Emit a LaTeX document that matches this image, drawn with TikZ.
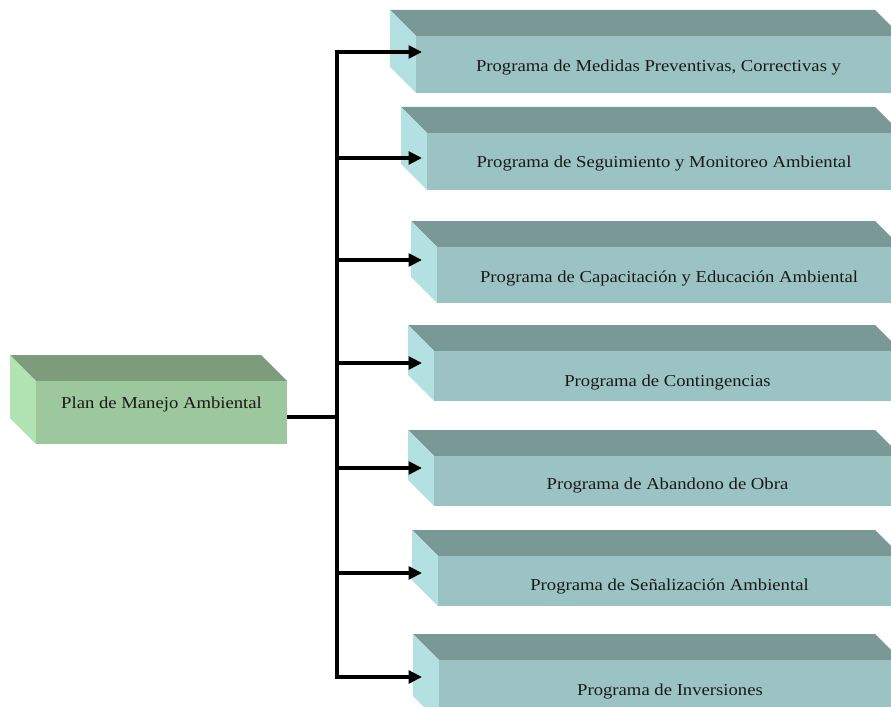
\documentclass[tikz,border=0pt]{standalone}
\usepackage{fontspec}
\setmainfont{Liberation Serif}[FakeStretch=1.12]
\usetikzlibrary{arrows.meta}

% face colours of the bevelled boxes
\definecolor{tealtop}{RGB}{122,152,150}
\definecolor{tealfront}{RGB}{155,195,195}
\definecolor{tealside}{RGB}{179,224,224}
\definecolor{greentop}{RGB}{124,156,124}
\definecolor{greenfront}{RGB}{157,200,157}
\definecolor{greenside}{RGB}{178,227,178}
\definecolor{labeltext}{RGB}{25,25,25}

% bevelled box: #1 left x, #2 top y, #3 front height, #4 front right x,
% #5 top colour, #6 front colour, #7 side colour (depth 26 units)
\newcommand\bevelbox[7]{%
  \fill[#5] (#1,#2) -- (#4-26,#2) -- (#4,#2+26) -- (#1+26,#2+26) -- cycle;
  \fill[#7] (#1,#2) -- (#1+26,#2+26) -- (#1+26,#2+26+#3) -- (#1,#2+#3) -- cycle;
  \fill[#6] (#1+26,#2+26) rectangle (#4,#2+26+#3);
}

\tikzset{
  boxlabel/.style={anchor=base, inner sep=0pt, text=labeltext,
    font=\fontsize{12.5}{15}\selectfont},
  trunk/.style={line width=2.8pt, line join=miter},
  branch/.style={line width=2.6pt, line join=miter,
    -{Triangle[length=10pt,width=9.5pt]}},
}

\begin{document}
\begin{tikzpicture}[x=0.75pt,y=-0.75pt]
  \useasboundingbox (0,0) rectangle (891,706);
  \fill[white] (0,0) rectangle (891,706);
  \clip (0,0) rectangle (891,706);

  % root box
  \bevelbox{10}{355}{63}{287}{greentop}{greenfront}{greenside}
  \node[boxlabel] (pma) at (161.5,408) {Plan de Manejo Ambiental};

  % programme boxes
  \bevelbox{390}{10}{57}{901}{tealtop}{tealfront}{tealside}
  \node[boxlabel] (p1) at (658.5,71.5) {Programa de Medidas Preventivas, Correctivas y};
  \bevelbox{401}{107}{57}{901}{tealtop}{tealfront}{tealside}
  \node[boxlabel] (p2) at (664,167) {Programa de Seguimiento y Monitoreo Ambiental};
  \bevelbox{411}{221}{56}{901}{tealtop}{tealfront}{tealside}
  \node[boxlabel] (p3) at (669,282) {Programa de Capacitación y Educación Ambiental};
  \bevelbox{408}{325}{50}{901}{tealtop}{tealfront}{tealside}
  \node[boxlabel] (p4) at (667.5,386) {Programa de Contingencias};
  \bevelbox{408}{430}{50}{901}{tealtop}{tealfront}{tealside}
  \node[boxlabel] (p5) at (667.5,489) {Programa de Abandono de Obra};
  \bevelbox{412}{530}{50}{901}{tealtop}{tealfront}{tealside}
  \node[boxlabel] (p6) at (669.5,590) {Programa de Señalización Ambiental};
  \bevelbox{413}{634}{62}{901}{tealtop}{tealfront}{tealside}
  \node[boxlabel] (p7) at (670,695) {Programa de Inversiones};

  % connector points
  \coordinate (out) at (287,417);
  \coordinate (j) at (337,417);
  \foreach \i/\y in {1/52,2/158,3/260,4/363,5/468,6/573,7/677}{
    \coordinate (t\i) at (337,\y);
    \coordinate (e\i) at (422,\y);
  }

  % trunk and branches
  \draw[trunk] (out) -- (j);
  \draw[branch] (t7) -- (t1) -- (e1);
  \draw[branch] (t1) -- (t7) -- (e7);
  \foreach \i in {2,...,6}{
    \draw[branch] (t\i) -- (e\i);
  }
\end{tikzpicture}
\end{document}
